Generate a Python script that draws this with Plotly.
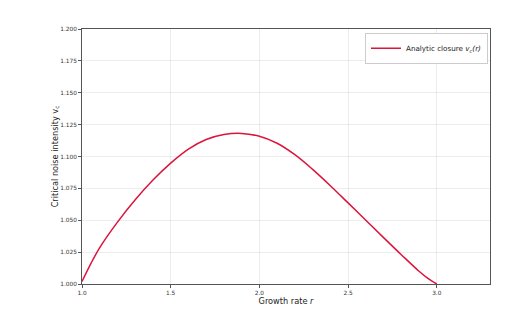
import plotly.graph_objects as go

r_values = [1.0, 1.05, 1.1, 1.2, 1.3, 1.4, 1.5, 1.6, 1.7, 1.8, 1.9, 2.0, 2.1, 2.2, 2.3, 2.4, 2.5, 2.6, 2.7, 2.8, 2.9, 2.95, 3.0]
vc_values = [1.002, 1.016, 1.0285, 1.0485, 1.066, 1.0815, 1.0948, 1.1058, 1.1133, 1.1172, 1.1181, 1.1159, 1.1104, 1.1014, 1.0899, 1.0771, 1.0636, 1.0500, 1.0364, 1.0230, 1.0100, 1.0044, 1.0000]

x_ticks = [1.0, 1.5, 2.0, 2.5, 3.0]
y_ticks = [1.0, 1.025, 1.05, 1.075, 1.1, 1.125, 1.15, 1.175, 1.2]

fig = go.Figure()
fig.add_trace(go.Scatter(
    x=r_values, y=vc_values, mode="lines",
    line=dict(color="crimson", width=1.5, shape="spline", smoothing=1),
    name="Analytic closure <i>v<sub>c</sub>(r)</i>",
))

axis_common = dict(
    showline=True, linecolor="#555555", linewidth=1, mirror=True,
    ticks="outside", ticklen=3, tickcolor="#555555",
    showgrid=True, gridcolor="rgba(0,0,0,0.07)", gridwidth=1,
    zeroline=False, tickfont=dict(size=5.8, color="#333333"),
    automargin=False,
)

fig.update_layout(
    width=531, height=310,
    margin=dict(l=82, r=41, t=29, b=26),
    paper_bgcolor="white", plot_bgcolor="white",
    font=dict(family="DejaVu Sans", color="#222222"),
    showlegend=True,
    legend=dict(x=0.995, y=0.985, xanchor="right", yanchor="top",
                bordercolor="#cccccc", borderwidth=1, bgcolor="white",
                font=dict(size=7.2), itemwidth=30, tracegroupgap=0),
    xaxis=dict(range=[1.0, 3.3], tickvals=x_ticks, tickformat=".1f",
               title=dict(text="Growth rate <i>r</i>", font=dict(size=8.2), standoff=0),
               **axis_common),
    yaxis=dict(range=[1.0, 1.2], tickvals=y_ticks, tickformat=".3f",
               title=dict(text="Critical noise intensity v<sub>c</sub>", font=dict(size=8.2), standoff=0),
               **axis_common),
)

fig.write_html("out.html", config={"displayModeBar": False},
               post_script="document.body.style.margin='0';document.body.style.overflow='hidden';")
